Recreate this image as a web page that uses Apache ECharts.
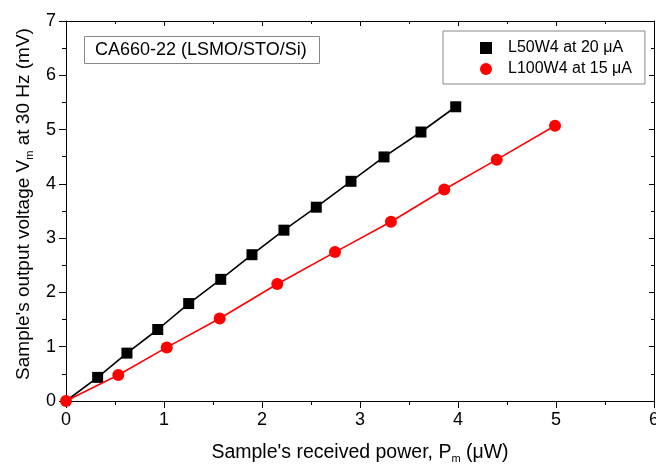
<!DOCTYPE html>
<html>
<head>
<meta charset="utf-8">
<script src="https://cdn.jsdelivr.net/npm/echarts@6/dist/echarts.min.js"></script>
<style>html,body{margin:0;padding:0;background:#fff;overflow:hidden}#c{width:656px;height:464px}</style>
</head>
<body>
<div id="c"></div>
<script>
// Data
const seriesNames = ['L50W4 at 20 \u03bcA', 'L100W4 at 15 \u03bcA'];
const blackX = [0, 0.323, 0.622, 0.936, 1.252, 1.579, 1.898, 2.224, 2.554, 2.908, 3.245, 3.622, 3.977];
const blackY = [0, 0.435, 0.882, 1.317, 1.795, 2.241, 2.695, 3.147, 3.570, 4.047, 4.496, 4.955, 5.420];
const redX = [0, 0.534, 1.028, 1.568, 2.156, 2.745, 3.316, 3.860, 4.395, 4.990];
const redY = [0, 0.478, 0.987, 1.519, 2.155, 2.743, 3.302, 3.895, 4.446, 5.071];
const xTicks = [0, 1, 2, 3, 4, 5, 6];
const yTicks = [0, 1, 2, 3, 4, 5, 6, 7];
const annotation = 'CA660-22 (LSMO/STO/Si)';

const FONT = 'Liberation Sans, Arial, sans-serif';
const chart = echarts.init(document.getElementById('c'), null, {renderer: 'canvas'});

const blackData = blackX.map((x, i) => i === 0 ? {value: [x, blackY[i]], symbol: 'none'} : [x, blackY[i]]);
const redData = redX.map((x, i) => [x, redY[i]]);

const axisCommon = {
  type: 'value',
  axisLine: {show: true, onZero: false, lineStyle: {color: '#000', width: 1}},
  splitLine: {show: false},
  minorTick: {show: true, splitNumber: 2, length: 4, lineStyle: {color: '#000'}},
  axisTick: {show: true, length: 7, lineStyle: {color: '#000'}}
};

chart.setOption({
  animation: false,
  backgroundColor: '#fff',
  grid: {left: 66, top: 21, width: 588, height: 380, containLabel: false, outerBoundsMode: 'none'},
  title: {
    text: annotation,
    left: 84, top: 36,
    borderColor: '#888', borderWidth: 1,
    padding: [5, 13, 5, 11],
    textStyle: {fontFamily: FONT, fontSize: 18, fontWeight: 'normal', color: '#000'}
  },
  legend: {
    orient: 'vertical',
    left: 443, top: 31,
    borderColor: '#888', borderWidth: 1,
    padding: [9, 13, 7, 37],
    itemGap: 5,
    itemWidth: 12, itemHeight: 12,
    textStyle: {fontFamily: FONT, fontSize: 16, color: '#000', padding: [0, 0, 0, 11]},
    data: [
      {name: seriesNames[0], icon: 'rect'},
      {name: seriesNames[1], icon: 'circle'}
    ]
  },
  xAxis: [
    Object.assign({}, axisCommon, {
      position: 'bottom', min: xTicks[0], max: xTicks[xTicks.length - 1], interval: 1,
      axisLabel: {color: '#000', fontFamily: FONT, fontSize: 18, margin: 10, showMaxLabel: true},
      name: '{a|Sample\'s received power, P}{s|m}{a| (\u03bcW)}',
      nameLocation: 'middle', nameGap: 40,
      nameTextStyle: {
        rich: {
          a: {fontFamily: FONT, fontSize: 19.5, color: '#000'},
          s: {fontFamily: FONT, fontSize: 11, color: '#000', padding: [12, 0, 0, 0]}
        }
      }
    }),
    Object.assign({}, axisCommon, {
      position: 'top', min: xTicks[0], max: xTicks[xTicks.length - 1], interval: 1,
      axisTick: {show: true, inside: true, length: 5, lineStyle: {color: '#000'}},
      minorTick: {show: true, splitNumber: 2, length: 3, lineStyle: {color: '#000'}},
      axisLabel: {show: false}
    })
  ],
  yAxis: [
    Object.assign({}, axisCommon, {
      position: 'left', min: yTicks[0], max: yTicks[yTicks.length - 1], interval: 1,
      axisLabel: {color: '#000', fontFamily: FONT, fontSize: 18, margin: 10},
      name: '{a|Sample\'s output voltage V}{s|m}{a| at 30 Hz (mV)}',
      nameLocation: 'middle', nameGap: 31,
      nameTextStyle: {
        padding: [0, 0, 0, 14],
        rich: {
          a: {fontFamily: FONT, fontSize: 19, color: '#000'},
          s: {fontFamily: FONT, fontSize: 11, color: '#000', padding: [12, 0, 0, 0]}
        }
      }
    }),
    Object.assign({}, axisCommon, {
      position: 'right', min: yTicks[0], max: yTicks[yTicks.length - 1], interval: 1,
      axisTick: {show: true, inside: true, length: 5, lineStyle: {color: '#000'}},
      minorTick: {show: true, splitNumber: 2, length: 3, lineStyle: {color: '#000'}},
      axisLabel: {show: false}
    })
  ],
  series: [
    {
      name: seriesNames[0], type: 'line', xAxisIndex: 0, yAxisIndex: 0,
      data: blackData,
      symbol: 'rect', symbolSize: 11,
      itemStyle: {color: '#000'},
      lineStyle: {color: '#000', width: 1.6},
      z: 3
    },
    {
      name: seriesNames[1], type: 'line', xAxisIndex: 0, yAxisIndex: 0,
      data: redData,
      symbol: 'circle', symbolSize: 12,
      itemStyle: {color: '#ff0000'},
      lineStyle: {color: '#ff0000', width: 1.6},
      z: 4
    }
  ]
});
</script>
</body>
</html>
